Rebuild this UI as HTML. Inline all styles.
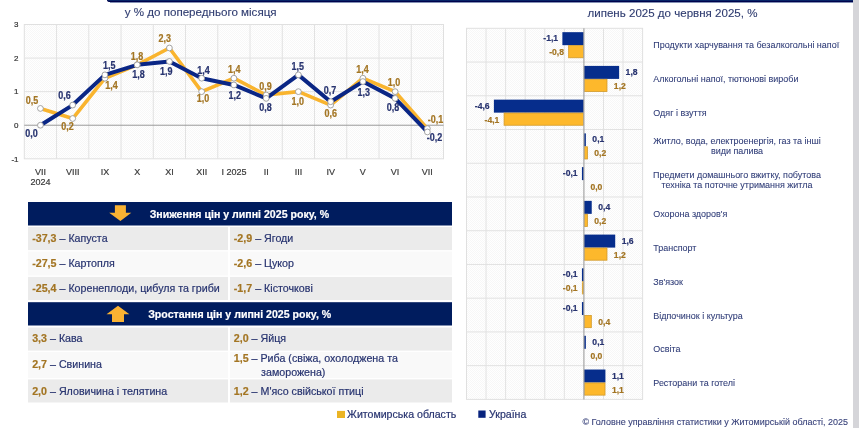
<!DOCTYPE html><html><head><meta charset="utf-8"><style>
html,body{margin:0;padding:0;background:#fff;width:859px;height:428px;overflow:hidden;font-family:"Liberation Sans", sans-serif;}
.abs{position:absolute;}
svg text{font-family:"Liberation Sans", sans-serif;}
svg{will-change:transform;}
.tx{stroke-width:0.22px;}
</style></head><body>
<div class="abs" style="left:0;top:0;width:859px;height:428px;overflow:hidden">

<svg class="abs" style="left:0;top:0" width="859" height="428" viewBox="0 0 859 428">
<defs>
<pattern id="chk" width="2" height="2" patternUnits="userSpaceOnUse">
<rect width="2" height="2" fill="#ffffff"/><rect width="1" height="1" fill="#f7f7f7"/><rect x="1" y="1" width="1" height="1" fill="#f7f7f7"/>
</pattern></defs>
<path d="M107,0 H853 V2 H110 Q107,2 107,0 Z" fill="#00034c"/>
<rect x="108" y="0" width="745" height="1" fill="#062468"/>
<rect x="110" y="2" width="743" height="1" fill="#8391b5"/>
<rect x="853" y="0" width="6" height="428" fill="#d5d5d9"/>
<text x="124.7" y="15.8" font-size="11.6" fill="#2f3c70" stroke="#2f3c70" stroke-width="0.12">у % до попереднього місяця</text>
<text x="587.5" y="17.2" font-size="11.55" fill="#2f3c70" stroke="#2f3c70" stroke-width="0.12">липень 2025 до червня 2025, %</text>
<rect x="24.3" y="24.5" width="419.2" height="134.3" fill="url(#chk)" stroke="#e0e0e0" stroke-width="1"/>
<line x1="56.55" y1="24.5" x2="56.55" y2="158.8" stroke="#e2e2e2" stroke-width="1"/>
<line x1="88.79" y1="24.5" x2="88.79" y2="158.8" stroke="#e2e2e2" stroke-width="1"/>
<line x1="121.04" y1="24.5" x2="121.04" y2="158.8" stroke="#e2e2e2" stroke-width="1"/>
<line x1="153.28" y1="24.5" x2="153.28" y2="158.8" stroke="#e2e2e2" stroke-width="1"/>
<line x1="185.53" y1="24.5" x2="185.53" y2="158.8" stroke="#e2e2e2" stroke-width="1"/>
<line x1="217.78" y1="24.5" x2="217.78" y2="158.8" stroke="#e2e2e2" stroke-width="1"/>
<line x1="250.02" y1="24.5" x2="250.02" y2="158.8" stroke="#e2e2e2" stroke-width="1"/>
<line x1="282.27" y1="24.5" x2="282.27" y2="158.8" stroke="#e2e2e2" stroke-width="1"/>
<line x1="314.52" y1="24.5" x2="314.52" y2="158.8" stroke="#e2e2e2" stroke-width="1"/>
<line x1="346.76" y1="24.5" x2="346.76" y2="158.8" stroke="#e2e2e2" stroke-width="1"/>
<line x1="379.01" y1="24.5" x2="379.01" y2="158.8" stroke="#e2e2e2" stroke-width="1"/>
<line x1="411.25" y1="24.5" x2="411.25" y2="158.8" stroke="#e2e2e2" stroke-width="1"/>
<line x1="24.3" y1="58.08" x2="443.5" y2="58.08" stroke="#e2e2e2" stroke-width="1"/>
<line x1="24.3" y1="91.65" x2="443.5" y2="91.65" stroke="#e2e2e2" stroke-width="1"/>
<line x1="24.3" y1="125.23" x2="443.5" y2="125.23" stroke="#9a9a9a" stroke-width="1"/>
<text x="18.5" y="27.30" font-size="8.0" fill="#333" text-anchor="end" stroke="#333" stroke-width="0.2">3</text>
<text x="18.5" y="60.88" font-size="8.0" fill="#333" text-anchor="end" stroke="#333" stroke-width="0.2">2</text>
<text x="18.5" y="94.45" font-size="8.0" fill="#333" text-anchor="end" stroke="#333" stroke-width="0.2">1</text>
<text x="18.5" y="128.03" font-size="8.0" fill="#333" text-anchor="end" stroke="#333" stroke-width="0.2">0</text>
<text x="18.5" y="161.60" font-size="8.0" fill="#333" text-anchor="end" stroke="#333" stroke-width="0.2">-1</text>
<text x="40.42" y="175.2" font-size="9" fill="#3a3a3a" text-anchor="middle" stroke="#3a3a3a" stroke-width="0.2">VII</text>
<text x="72.67" y="175.2" font-size="9" fill="#3a3a3a" text-anchor="middle" stroke="#3a3a3a" stroke-width="0.2">VIII</text>
<text x="104.92" y="175.2" font-size="9" fill="#3a3a3a" text-anchor="middle" stroke="#3a3a3a" stroke-width="0.2">IX</text>
<text x="137.16" y="175.2" font-size="9" fill="#3a3a3a" text-anchor="middle" stroke="#3a3a3a" stroke-width="0.2">X</text>
<text x="169.41" y="175.2" font-size="9" fill="#3a3a3a" text-anchor="middle" stroke="#3a3a3a" stroke-width="0.2">XI</text>
<text x="201.65" y="175.2" font-size="9" fill="#3a3a3a" text-anchor="middle" stroke="#3a3a3a" stroke-width="0.2">XII</text>
<text x="233.90" y="175.2" font-size="9" fill="#3a3a3a" text-anchor="middle" stroke="#3a3a3a" stroke-width="0.2">I 2025</text>
<text x="266.15" y="175.2" font-size="9" fill="#3a3a3a" text-anchor="middle" stroke="#3a3a3a" stroke-width="0.2">II</text>
<text x="298.39" y="175.2" font-size="9" fill="#3a3a3a" text-anchor="middle" stroke="#3a3a3a" stroke-width="0.2">III</text>
<text x="330.64" y="175.2" font-size="9" fill="#3a3a3a" text-anchor="middle" stroke="#3a3a3a" stroke-width="0.2">IV</text>
<text x="362.88" y="175.2" font-size="9" fill="#3a3a3a" text-anchor="middle" stroke="#3a3a3a" stroke-width="0.2">V</text>
<text x="395.13" y="175.2" font-size="9" fill="#3a3a3a" text-anchor="middle" stroke="#3a3a3a" stroke-width="0.2">VI</text>
<text x="427.38" y="175.2" font-size="9" fill="#3a3a3a" text-anchor="middle" stroke="#3a3a3a" stroke-width="0.2">VII</text>
<text x="40.42" y="185.4" font-size="9" fill="#3a3a3a" text-anchor="middle" stroke="#3a3a3a" stroke-width="0.2">2024</text>
<polyline points="40.42,108.44 72.67,118.51 104.92,78.22 137.16,64.79 169.41,48.00 201.65,91.65 233.90,78.22 266.15,95.01 298.39,91.65 330.64,105.08 362.88,78.22 395.13,91.65 427.38,128.58" fill="none" stroke="#f9b42e" stroke-width="3.6" stroke-linejoin="round"/>
<polyline points="40.42,125.23 72.67,105.08 104.92,74.86 137.16,64.79 169.41,61.43 201.65,78.22 233.90,84.94 266.15,98.37 298.39,74.86 330.64,101.72 362.88,81.58 395.13,98.37 427.38,131.94" fill="none" stroke="#0a2685" stroke-width="4" stroke-linejoin="round"/>
<circle cx="40.42" cy="108.44" r="2.9" fill="#fff" stroke="#9a9a9a" stroke-width="0.9"/>
<circle cx="72.67" cy="118.51" r="2.9" fill="#fff" stroke="#9a9a9a" stroke-width="0.9"/>
<circle cx="104.92" cy="78.22" r="2.9" fill="#fff" stroke="#9a9a9a" stroke-width="0.9"/>
<circle cx="137.16" cy="64.79" r="2.9" fill="#fff" stroke="#9a9a9a" stroke-width="0.9"/>
<circle cx="169.41" cy="48.00" r="2.9" fill="#fff" stroke="#9a9a9a" stroke-width="0.9"/>
<circle cx="201.65" cy="91.65" r="2.9" fill="#fff" stroke="#9a9a9a" stroke-width="0.9"/>
<circle cx="233.90" cy="78.22" r="2.9" fill="#fff" stroke="#9a9a9a" stroke-width="0.9"/>
<circle cx="266.15" cy="95.01" r="2.9" fill="#fff" stroke="#9a9a9a" stroke-width="0.9"/>
<circle cx="298.39" cy="91.65" r="2.9" fill="#fff" stroke="#9a9a9a" stroke-width="0.9"/>
<circle cx="330.64" cy="105.08" r="2.9" fill="#fff" stroke="#9a9a9a" stroke-width="0.9"/>
<circle cx="362.88" cy="78.22" r="2.9" fill="#fff" stroke="#9a9a9a" stroke-width="0.9"/>
<circle cx="395.13" cy="91.65" r="2.9" fill="#fff" stroke="#9a9a9a" stroke-width="0.9"/>
<circle cx="427.38" cy="128.58" r="2.9" fill="#fff" stroke="#9a9a9a" stroke-width="0.9"/>
<circle cx="40.42" cy="125.23" r="2.9" fill="#fff" stroke="#9a9a9a" stroke-width="0.9"/>
<circle cx="72.67" cy="105.08" r="2.9" fill="#fff" stroke="#9a9a9a" stroke-width="0.9"/>
<circle cx="104.92" cy="74.86" r="2.9" fill="#fff" stroke="#9a9a9a" stroke-width="0.9"/>
<circle cx="137.16" cy="64.79" r="2.9" fill="#fff" stroke="#9a9a9a" stroke-width="0.9"/>
<circle cx="169.41" cy="61.43" r="2.9" fill="#fff" stroke="#9a9a9a" stroke-width="0.9"/>
<circle cx="201.65" cy="78.22" r="2.9" fill="#fff" stroke="#9a9a9a" stroke-width="0.9"/>
<circle cx="233.90" cy="84.94" r="2.9" fill="#fff" stroke="#9a9a9a" stroke-width="0.9"/>
<circle cx="266.15" cy="98.37" r="2.9" fill="#fff" stroke="#9a9a9a" stroke-width="0.9"/>
<circle cx="298.39" cy="74.86" r="2.9" fill="#fff" stroke="#9a9a9a" stroke-width="0.9"/>
<circle cx="330.64" cy="101.72" r="2.9" fill="#fff" stroke="#9a9a9a" stroke-width="0.9"/>
<circle cx="362.88" cy="81.58" r="2.9" fill="#fff" stroke="#9a9a9a" stroke-width="0.9"/>
<circle cx="395.13" cy="98.37" r="2.9" fill="#fff" stroke="#9a9a9a" stroke-width="0.9"/>
<circle cx="427.38" cy="131.94" r="2.9" fill="#fff" stroke="#9a9a9a" stroke-width="0.9"/>
<text x="31.50" y="137.40" font-size="9" font-weight="bold" fill="#283470" text-anchor="middle" stroke="#283470" stroke-width="0.2" transform="matrix(1,0,0,1.15,0,-20.610)">0,0</text>
<text x="64.40" y="98.90" font-size="9" font-weight="bold" fill="#283470" text-anchor="middle" stroke="#283470" stroke-width="0.2" transform="matrix(1,0,0,1.15,0,-14.835)">0,6</text>
<text x="109.30" y="69.30" font-size="9" font-weight="bold" fill="#283470" text-anchor="middle" stroke="#283470" stroke-width="0.2" transform="matrix(1,0,0,1.15,0,-10.395)">1,5</text>
<text x="138.50" y="77.70" font-size="9" font-weight="bold" fill="#283470" text-anchor="middle" stroke="#283470" stroke-width="0.2" transform="matrix(1,0,0,1.15,0,-11.655)">1,8</text>
<text x="166.20" y="74.90" font-size="9" font-weight="bold" fill="#283470" text-anchor="middle" stroke="#283470" stroke-width="0.2" transform="matrix(1,0,0,1.15,0,-11.235)">1,9</text>
<text x="203.50" y="73.90" font-size="9" font-weight="bold" fill="#283470" text-anchor="middle" stroke="#283470" stroke-width="0.2" transform="matrix(1,0,0,1.15,0,-11.085)">1,4</text>
<text x="234.80" y="98.70" font-size="9" font-weight="bold" fill="#283470" text-anchor="middle" stroke="#283470" stroke-width="0.2" transform="matrix(1,0,0,1.15,0,-14.805)">1,2</text>
<text x="265.50" y="111.10" font-size="9" font-weight="bold" fill="#283470" text-anchor="middle" stroke="#283470" stroke-width="0.2" transform="matrix(1,0,0,1.15,0,-16.665)">0,8</text>
<text x="297.80" y="69.70" font-size="9" font-weight="bold" fill="#283470" text-anchor="middle" stroke="#283470" stroke-width="0.2" transform="matrix(1,0,0,1.15,0,-10.455)">1,5</text>
<text x="330.10" y="93.60" font-size="9" font-weight="bold" fill="#283470" text-anchor="middle" stroke="#283470" stroke-width="0.2" transform="matrix(1,0,0,1.15,0,-14.040)">0,7</text>
<text x="363.70" y="95.90" font-size="9" font-weight="bold" fill="#283470" text-anchor="middle" stroke="#283470" stroke-width="0.2" transform="matrix(1,0,0,1.15,0,-14.385)">1,3</text>
<text x="393.10" y="111.10" font-size="9" font-weight="bold" fill="#283470" text-anchor="middle" stroke="#283470" stroke-width="0.2" transform="matrix(1,0,0,1.15,0,-16.665)">0,8</text>
<text x="434.40" y="141.50" font-size="9" font-weight="bold" fill="#283470" text-anchor="middle" stroke="#283470" stroke-width="0.2" transform="matrix(1,0,0,1.15,0,-21.225)">-0,2</text>
<text x="32.00" y="104.40" font-size="9" font-weight="bold" fill="#a37523" text-anchor="middle" stroke="#a37523" stroke-width="0.2" transform="matrix(1,0,0,1.15,0,-15.660)">0,5</text>
<text x="67.40" y="129.90" font-size="9" font-weight="bold" fill="#a37523" text-anchor="middle" stroke="#a37523" stroke-width="0.2" transform="matrix(1,0,0,1.15,0,-19.485)">0,2</text>
<text x="111.40" y="88.90" font-size="9" font-weight="bold" fill="#a37523" text-anchor="middle" stroke="#a37523" stroke-width="0.2" transform="matrix(1,0,0,1.15,0,-13.335)">1,4</text>
<text x="137.10" y="59.80" font-size="9" font-weight="bold" fill="#a37523" text-anchor="middle" stroke="#a37523" stroke-width="0.2" transform="matrix(1,0,0,1.15,0,-8.970)">1,8</text>
<text x="164.80" y="41.60" font-size="9" font-weight="bold" fill="#a37523" text-anchor="middle" stroke="#a37523" stroke-width="0.2" transform="matrix(1,0,0,1.15,0,-6.240)">2,3</text>
<text x="203.00" y="101.90" font-size="9" font-weight="bold" fill="#a37523" text-anchor="middle" stroke="#a37523" stroke-width="0.2" transform="matrix(1,0,0,1.15,0,-15.285)">1,0</text>
<text x="234.20" y="73.20" font-size="9" font-weight="bold" fill="#a37523" text-anchor="middle" stroke="#a37523" stroke-width="0.2" transform="matrix(1,0,0,1.15,0,-10.980)">1,4</text>
<text x="265.50" y="89.70" font-size="9" font-weight="bold" fill="#a37523" text-anchor="middle" stroke="#a37523" stroke-width="0.2" transform="matrix(1,0,0,1.15,0,-13.455)">0,9</text>
<text x="297.80" y="105.00" font-size="9" font-weight="bold" fill="#a37523" text-anchor="middle" stroke="#a37523" stroke-width="0.2" transform="matrix(1,0,0,1.15,0,-15.750)">1,0</text>
<text x="330.70" y="117.50" font-size="9" font-weight="bold" fill="#a37523" text-anchor="middle" stroke="#a37523" stroke-width="0.2" transform="matrix(1,0,0,1.15,0,-17.625)">0,6</text>
<text x="362.50" y="72.60" font-size="9" font-weight="bold" fill="#a37523" text-anchor="middle" stroke="#a37523" stroke-width="0.2" transform="matrix(1,0,0,1.15,0,-10.890)">1,4</text>
<text x="394.10" y="86.10" font-size="9" font-weight="bold" fill="#a37523" text-anchor="middle" stroke="#a37523" stroke-width="0.2" transform="matrix(1,0,0,1.15,0,-12.915)">1,0</text>
<text x="435.60" y="123.50" font-size="9" font-weight="bold" fill="#a37523" text-anchor="middle" stroke="#a37523" stroke-width="0.2" transform="matrix(1,0,0,1.15,0,-18.525)">-0,1</text>
<rect x="466.5" y="28.3" width="176.10000000000002" height="371.09999999999997" fill="url(#chk)" stroke="#e0e0e0" stroke-width="1"/>
<line x1="486.07" y1="28.3" x2="486.07" y2="399.4" stroke="#e2e2e2" stroke-width="1"/>
<line x1="505.63" y1="28.3" x2="505.63" y2="399.4" stroke="#e2e2e2" stroke-width="1"/>
<line x1="525.20" y1="28.3" x2="525.20" y2="399.4" stroke="#e2e2e2" stroke-width="1"/>
<line x1="544.77" y1="28.3" x2="544.77" y2="399.4" stroke="#e2e2e2" stroke-width="1"/>
<line x1="564.33" y1="28.3" x2="564.33" y2="399.4" stroke="#e2e2e2" stroke-width="1"/>
<line x1="603.47" y1="28.3" x2="603.47" y2="399.4" stroke="#e2e2e2" stroke-width="1"/>
<line x1="623.03" y1="28.3" x2="623.03" y2="399.4" stroke="#e2e2e2" stroke-width="1"/>
<line x1="466.5" y1="62.04" x2="642.6" y2="62.04" stroke="#e2e2e2" stroke-width="1"/>
<line x1="466.5" y1="95.77" x2="642.6" y2="95.77" stroke="#e2e2e2" stroke-width="1"/>
<line x1="466.5" y1="129.51" x2="642.6" y2="129.51" stroke="#e2e2e2" stroke-width="1"/>
<line x1="466.5" y1="163.25" x2="642.6" y2="163.25" stroke="#e2e2e2" stroke-width="1"/>
<line x1="466.5" y1="196.98" x2="642.6" y2="196.98" stroke="#e2e2e2" stroke-width="1"/>
<line x1="466.5" y1="230.72" x2="642.6" y2="230.72" stroke="#e2e2e2" stroke-width="1"/>
<line x1="466.5" y1="264.45" x2="642.6" y2="264.45" stroke="#e2e2e2" stroke-width="1"/>
<line x1="466.5" y1="298.19" x2="642.6" y2="298.19" stroke="#e2e2e2" stroke-width="1"/>
<line x1="466.5" y1="331.93" x2="642.6" y2="331.93" stroke="#e2e2e2" stroke-width="1"/>
<line x1="466.5" y1="365.66" x2="642.6" y2="365.66" stroke="#e2e2e2" stroke-width="1"/>
<text x="653.3" y="48.07" font-size="8.98" fill="#303d78" stroke="#303d78" stroke-width="0.08" transform="matrix(1,0,0,1.09,0,-4.326)">Продукти харчування та безалкогольні напої</text>
<text x="653.3" y="81.88" font-size="8.98" fill="#303d78" stroke="#303d78" stroke-width="0.08" transform="matrix(1,0,0,1.09,0,-7.369)">Алкогольні напої, тютюнові вироби</text>
<text x="653.3" y="115.70" font-size="8.98" fill="#303d78" stroke="#303d78" stroke-width="0.08" transform="matrix(1,0,0,1.09,0,-10.413)">Одяг і взуття</text>
<text x="737" y="144.32" font-size="8.98" fill="#303d78" stroke="#303d78" stroke-width="0.08" text-anchor="middle" transform="matrix(1,0,0,1.09,0,-12.989)">Житло, вода, електроенергія, газ та інші</text>
<text x="737" y="154.22" font-size="8.98" fill="#303d78" stroke="#303d78" stroke-width="0.08" text-anchor="middle" transform="matrix(1,0,0,1.09,0,-13.880)">види палива</text>
<text x="737" y="178.13" font-size="8.98" fill="#303d78" stroke="#303d78" stroke-width="0.08" text-anchor="middle" transform="matrix(1,0,0,1.09,0,-16.032)">Предмети домашнього вжитку, побутова</text>
<text x="737" y="188.03" font-size="8.98" fill="#303d78" stroke="#303d78" stroke-width="0.08" text-anchor="middle" transform="matrix(1,0,0,1.09,0,-16.923)">техніка та поточне утримання житла</text>
<text x="653.3" y="217.15" font-size="8.98" fill="#303d78" stroke="#303d78" stroke-width="0.08" transform="matrix(1,0,0,1.09,0,-19.544)">Охорона здоров'я</text>
<text x="653.3" y="250.97" font-size="8.98" fill="#303d78" stroke="#303d78" stroke-width="0.08" transform="matrix(1,0,0,1.09,0,-22.587)">Транспорт</text>
<text x="653.3" y="284.78" font-size="8.98" fill="#303d78" stroke="#303d78" stroke-width="0.08" transform="matrix(1,0,0,1.09,0,-25.630)">Зв'язок</text>
<text x="653.3" y="318.60" font-size="8.98" fill="#303d78" stroke="#303d78" stroke-width="0.08" transform="matrix(1,0,0,1.09,0,-28.674)">Відпочинок і культура</text>
<text x="653.3" y="352.42" font-size="8.98" fill="#303d78" stroke="#303d78" stroke-width="0.08" transform="matrix(1,0,0,1.09,0,-31.718)">Освіта</text>
<text x="653.3" y="386.23" font-size="8.98" fill="#303d78" stroke="#303d78" stroke-width="0.08" transform="matrix(1,0,0,1.09,0,-34.761)">Ресторани та готелі</text>
<rect x="562.38" y="32.17" width="21.52" height="13.00" fill="#062d8c"/>
<rect x="568.65" y="45.57" width="14.85" height="12.20" fill="#fdb82c" stroke="#d29a2a" stroke-width="0.8"/>
<rect x="583.90" y="65.90" width="35.22" height="13.00" fill="#062d8c"/>
<rect x="584.30" y="79.30" width="22.68" height="12.20" fill="#fdb82c" stroke="#d29a2a" stroke-width="0.8"/>
<rect x="493.89" y="99.64" width="90.01" height="13.00" fill="#062d8c"/>
<rect x="504.08" y="113.04" width="79.42" height="12.20" fill="#fdb82c" stroke="#d29a2a" stroke-width="0.8"/>
<rect x="583.90" y="133.38" width="1.96" height="13.00" fill="#062d8c"/>
<rect x="584.30" y="146.78" width="3.11" height="12.20" fill="#fdb82c" stroke="#d29a2a" stroke-width="0.8"/>
<rect x="581.94" y="167.11" width="1.96" height="13.00" fill="#062d8c"/>
<rect x="584.30" y="180.51" width="0.00" height="12.20" fill="#fdb82c" stroke="#d29a2a" stroke-width="0.8"/>
<rect x="583.90" y="200.85" width="7.83" height="13.00" fill="#062d8c"/>
<rect x="584.30" y="214.25" width="3.11" height="12.20" fill="#fdb82c" stroke="#d29a2a" stroke-width="0.8"/>
<rect x="583.90" y="234.59" width="31.31" height="13.00" fill="#062d8c"/>
<rect x="584.30" y="247.99" width="22.68" height="12.20" fill="#fdb82c" stroke="#d29a2a" stroke-width="0.8"/>
<rect x="581.94" y="268.32" width="1.96" height="13.00" fill="#062d8c"/>
<rect x="582.34" y="281.72" width="1.16" height="12.20" fill="#fdb82c" stroke="#d29a2a" stroke-width="0.8"/>
<rect x="581.94" y="302.06" width="1.96" height="13.00" fill="#062d8c"/>
<rect x="584.30" y="315.46" width="7.03" height="12.20" fill="#fdb82c" stroke="#d29a2a" stroke-width="0.8"/>
<rect x="583.90" y="335.80" width="1.96" height="13.00" fill="#062d8c"/>
<rect x="584.30" y="349.20" width="0.00" height="12.20" fill="#fdb82c" stroke="#d29a2a" stroke-width="0.8"/>
<rect x="583.90" y="369.53" width="21.52" height="13.00" fill="#062d8c"/>
<rect x="584.30" y="382.93" width="20.72" height="12.20" fill="#fdb82c" stroke="#d29a2a" stroke-width="0.8"/>
<line x1="583.90" y1="28.3" x2="583.90" y2="399.4" stroke="#a6a6a6" stroke-width="1.2"/>
<text x="558.08" y="41.27" font-size="8.6" font-weight="bold" fill="#283470" text-anchor="end" stroke="#283470" stroke-width="0.2" transform="matrix(1,0,0,1.15,0,-6.190)">-1,1</text>
<text x="563.95" y="55.27" font-size="8.6" font-weight="bold" fill="#a37523" text-anchor="end" stroke="#a37523" stroke-width="0.2" transform="matrix(1,0,0,1.15,0,-8.290)">-0,8</text>
<text x="625.62" y="75.00" font-size="8.6" font-weight="bold" fill="#283470" stroke="#283470" stroke-width="0.2" transform="matrix(1,0,0,1.15,0,-11.250)">1,8</text>
<text x="613.88" y="89.00" font-size="8.6" font-weight="bold" fill="#a37523" stroke="#a37523" stroke-width="0.2" transform="matrix(1,0,0,1.15,0,-13.350)">1,2</text>
<text x="489.59" y="108.74" font-size="8.6" font-weight="bold" fill="#283470" text-anchor="end" stroke="#283470" stroke-width="0.2" transform="matrix(1,0,0,1.15,0,-16.311)">-4,6</text>
<text x="499.38" y="122.74" font-size="8.6" font-weight="bold" fill="#a37523" text-anchor="end" stroke="#a37523" stroke-width="0.2" transform="matrix(1,0,0,1.15,0,-18.411)">-4,1</text>
<text x="592.36" y="142.48" font-size="8.6" font-weight="bold" fill="#283470" stroke="#283470" stroke-width="0.2" transform="matrix(1,0,0,1.15,0,-21.372)">0,1</text>
<text x="594.31" y="156.48" font-size="8.6" font-weight="bold" fill="#a37523" stroke="#a37523" stroke-width="0.2" transform="matrix(1,0,0,1.15,0,-23.472)">0,2</text>
<text x="577.64" y="176.21" font-size="8.6" font-weight="bold" fill="#283470" text-anchor="end" stroke="#283470" stroke-width="0.2" transform="matrix(1,0,0,1.15,0,-26.431)">-0,1</text>
<text x="590.40" y="190.21" font-size="8.6" font-weight="bold" fill="#a37523" stroke="#a37523" stroke-width="0.2" transform="matrix(1,0,0,1.15,0,-28.531)">0,0</text>
<text x="598.23" y="209.95" font-size="8.6" font-weight="bold" fill="#283470" stroke="#283470" stroke-width="0.2" transform="matrix(1,0,0,1.15,0,-31.492)">0,4</text>
<text x="594.31" y="223.95" font-size="8.6" font-weight="bold" fill="#a37523" stroke="#a37523" stroke-width="0.2" transform="matrix(1,0,0,1.15,0,-33.592)">0,2</text>
<text x="621.71" y="243.69" font-size="8.6" font-weight="bold" fill="#283470" stroke="#283470" stroke-width="0.2" transform="matrix(1,0,0,1.15,0,-36.553)">1,6</text>
<text x="613.88" y="257.69" font-size="8.6" font-weight="bold" fill="#a37523" stroke="#a37523" stroke-width="0.2" transform="matrix(1,0,0,1.15,0,-38.653)">1,2</text>
<text x="577.64" y="277.42" font-size="8.6" font-weight="bold" fill="#283470" text-anchor="end" stroke="#283470" stroke-width="0.2" transform="matrix(1,0,0,1.15,0,-41.613)">-0,1</text>
<text x="577.64" y="291.42" font-size="8.6" font-weight="bold" fill="#a37523" text-anchor="end" stroke="#a37523" stroke-width="0.2" transform="matrix(1,0,0,1.15,0,-43.713)">-0,1</text>
<text x="577.64" y="311.16" font-size="8.6" font-weight="bold" fill="#283470" text-anchor="end" stroke="#283470" stroke-width="0.2" transform="matrix(1,0,0,1.15,0,-46.674)">-0,1</text>
<text x="598.23" y="325.16" font-size="8.6" font-weight="bold" fill="#a37523" stroke="#a37523" stroke-width="0.2" transform="matrix(1,0,0,1.15,0,-48.774)">0,4</text>
<text x="592.36" y="344.90" font-size="8.6" font-weight="bold" fill="#283470" stroke="#283470" stroke-width="0.2" transform="matrix(1,0,0,1.15,0,-51.735)">0,1</text>
<text x="590.40" y="358.90" font-size="8.6" font-weight="bold" fill="#a37523" stroke="#a37523" stroke-width="0.2" transform="matrix(1,0,0,1.15,0,-53.835)">0,0</text>
<text x="611.92" y="378.63" font-size="8.6" font-weight="bold" fill="#283470" stroke="#283470" stroke-width="0.2" transform="matrix(1,0,0,1.15,0,-56.794)">1,1</text>
<text x="611.92" y="392.63" font-size="8.6" font-weight="bold" fill="#a37523" stroke="#a37523" stroke-width="0.2" transform="matrix(1,0,0,1.15,0,-58.894)">1,1</text>
<rect x="28" y="202" width="424" height="23.5" fill="#001c5e"/>
<path d="M114.9,205.2 H125.9 V212.8 H131.3 L120.4,220.9 L109.2,212.8 H114.9 Z" fill="#f9b233"/>
<text x="149.7" y="217.55" font-size="10.6" font-weight="bold" fill="#fff" stroke="#fff" stroke-width="0.2">Зниження цін у липні 2025 року, %</text>
<rect x="28" y="227" width="200" height="23.099999999999994" fill="#ebebeb"/>
<rect x="230" y="227" width="222" height="23.099999999999994" fill="#ebebeb"/>
<rect x="28" y="251.5" width="200" height="24.0" fill="#f9f9f9"/>
<rect x="230" y="251.5" width="222" height="24.0" fill="#f9f9f9"/>
<rect x="28" y="276.9" width="200" height="23.100000000000023" fill="#ebebeb"/>
<rect x="230" y="276.9" width="222" height="23.100000000000023" fill="#ebebeb"/>
<text x="32.2" y="242.20" font-size="10.68"><tspan font-weight="bold" fill="#a37523" stroke="#a37523" stroke-width="0.2">-37,3</tspan><tspan fill="#283470" stroke="#283470" stroke-width="0.2"> – Капуста</tspan></text>
<text x="233.8" y="242.20" font-size="10.68"><tspan font-weight="bold" fill="#a37523" stroke="#a37523" stroke-width="0.2">-2,9</tspan><tspan fill="#283470" stroke="#283470" stroke-width="0.2"> – Ягоди</tspan></text>
<text x="32.2" y="267.20" font-size="10.68"><tspan font-weight="bold" fill="#a37523" stroke="#a37523" stroke-width="0.2">-27,5</tspan><tspan fill="#283470" stroke="#283470" stroke-width="0.2"> – Картопля</tspan></text>
<text x="233.8" y="267.20" font-size="10.68"><tspan font-weight="bold" fill="#a37523" stroke="#a37523" stroke-width="0.2">-2,6</tspan><tspan fill="#283470" stroke="#283470" stroke-width="0.2"> – Цукор</tspan></text>
<text x="32.2" y="292.40" font-size="10.68"><tspan font-weight="bold" fill="#a37523" stroke="#a37523" stroke-width="0.2">-25,4</tspan><tspan fill="#283470" stroke="#283470" stroke-width="0.2"> – Коренеплоди, цибуля та гриби</tspan></text>
<text x="233.8" y="292.40" font-size="10.68"><tspan font-weight="bold" fill="#a37523" stroke="#a37523" stroke-width="0.2">-1,7</tspan><tspan fill="#283470" stroke="#283470" stroke-width="0.2"> – Кісточкові</tspan></text>
<rect x="28" y="302.2" width="424" height="23.30000000000001" fill="#001c5e"/>
<path d="M106.5,314.3 L118,305.8 L129.4,314.3 H124 V322.0 H112 V314.3 Z" fill="#f9b233"/>
<text x="148.2" y="317.65" font-size="10.6" font-weight="bold" fill="#fff" stroke="#fff" stroke-width="0.2">Зростання цін у липні 2025 року, %</text>
<rect x="28" y="327.5" width="200" height="23.100000000000023" fill="#ebebeb"/>
<rect x="230" y="327.5" width="222" height="23.100000000000023" fill="#ebebeb"/>
<rect x="28" y="352" width="200" height="26" fill="#f9f9f9"/>
<rect x="230" y="352" width="222" height="26" fill="#f9f9f9"/>
<rect x="28" y="379.4" width="200" height="23.100000000000023" fill="#ebebeb"/>
<rect x="230" y="379.4" width="222" height="23.100000000000023" fill="#ebebeb"/>
<text x="32.2" y="342.30" font-size="10.68"><tspan font-weight="bold" fill="#a37523" stroke="#a37523" stroke-width="0.2">3,3</tspan><tspan fill="#283470" stroke="#283470" stroke-width="0.2"> – Кава</tspan></text>
<text x="233.8" y="342.30" font-size="10.68"><tspan font-weight="bold" fill="#a37523" stroke="#a37523" stroke-width="0.2">2,0</tspan><tspan fill="#283470" stroke="#283470" stroke-width="0.2"> – Яйця</tspan></text>
<text x="32.2" y="368.40" font-size="10.68"><tspan font-weight="bold" fill="#a37523" stroke="#a37523" stroke-width="0.2">2,7</tspan><tspan fill="#283470" stroke="#283470" stroke-width="0.2"> – Свинина</tspan></text>
<text x="233.8" y="362.40" font-size="10.68"><tspan font-weight="bold" fill="#a37523" stroke="#a37523" stroke-width="0.2">1,5</tspan><tspan fill="#283470" stroke="#283470" stroke-width="0.2"> – Риба (свіжа, охолоджена та</tspan></text>
<text x="261.1" y="375.80" font-size="10.68" fill="#283470" stroke="#283470" stroke-width="0.2">заморожена)</text>
<text x="32.2" y="394.50" font-size="10.68"><tspan font-weight="bold" fill="#a37523" stroke="#a37523" stroke-width="0.2">2,0</tspan><tspan fill="#283470" stroke="#283470" stroke-width="0.2"> – Яловичина і телятина</tspan></text>
<text x="233.8" y="394.50" font-size="10.68"><tspan font-weight="bold" fill="#a37523" stroke="#a37523" stroke-width="0.2">1,2</tspan><tspan fill="#283470" stroke="#283470" stroke-width="0.2"> – М'ясо свійської птиці</tspan></text>
<rect x="337" y="410.9" width="8" height="7.1" fill="#ebb424"/>
<text x="347.1" y="418.15" font-size="10.6" fill="#283470" stroke="#283470" stroke-width="0.2">Житомирська область</text>
<rect x="478.3" y="410.5" width="7.3" height="7.3" fill="#08237e"/>
<text x="489" y="418.15" font-size="10.6" fill="#283470" stroke="#283470" stroke-width="0.2">Україна</text>
<text x="582.4" y="424.8" font-size="9" fill="#353f78" stroke="#353f78" stroke-width="0.1" transform="matrix(1,0,0,1.08,0,-33.984)">© Головне управління статистики у Житомирській області, 2025</text>
</svg>
</div></body></html>
